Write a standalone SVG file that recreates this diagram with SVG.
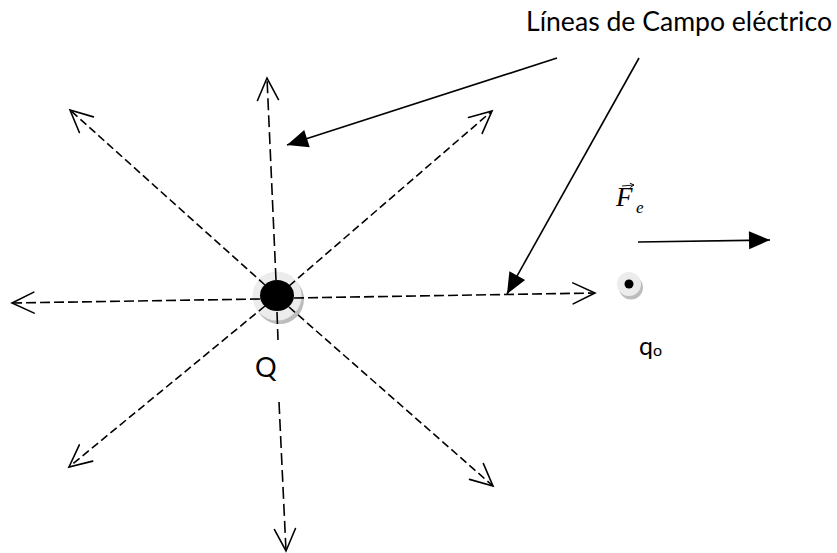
<svg xmlns="http://www.w3.org/2000/svg" width="837" height="553" viewBox="0 0 837 553">
<defs>
<marker id="open" markerUnits="userSpaceOnUse" markerWidth="40" markerHeight="40" viewBox="-30 -20 40 40" refX="0" refY="0" orient="auto" overflow="visible">
<path d="M-22,-10.5 L0,0 L-22,10.5" fill="none" stroke="#000" stroke-width="1.6" stroke-dasharray="none" stroke-linecap="round" stroke-linejoin="miter"/>
</marker>
<marker id="solid" markerUnits="userSpaceOnUse" markerWidth="40" markerHeight="40" viewBox="-30 -20 40 40" refX="0" refY="0" orient="auto" overflow="visible">
<path d="M0,0 L-21,-9 L-21,9 Z" fill="#000" stroke="none"/>
</marker>
<marker id="tiny" markerUnits="userSpaceOnUse" markerWidth="10" markerHeight="10" viewBox="-6 -4 10 8" refX="0" refY="0" orient="auto" overflow="visible">
<path d="M-4,-2.2 L0,0 L-4,2.2" fill="none" stroke="#000" stroke-width="0.9"/>
</marker>
</defs>
<style>
.dash{fill:none;stroke:#000;stroke-width:1.6;stroke-dasharray:8 4;marker-end:url(#open)}
.dv{stroke-dasharray:12 5}
.dh{stroke-dasharray:10 4}
.nomark{marker-end:none}
.call{fill:none;stroke:#000;stroke-width:1.6;marker-end:url(#solid)}
.lbl{font-family:Lato,"Open Sans","Liberation Sans",sans-serif;fill:#000}
.math{font-family:"Liberation Serif","Times New Roman",serif;font-style:italic;fill:#000}
</style>
<rect width="837" height="553" fill="#fff"/>

<g id="node-Q">
<circle cx="279.5" cy="299.5" r="24.5" fill="#bdbdbd"/>
<circle cx="277" cy="296" r="24.5" fill="#ececec"/>
<ellipse cx="277" cy="295.5" rx="17" ry="15.5" fill="#000"/>
<text class="lbl" x="255" y="377" font-size="27">Q</text>
</g>

<g id="node-q0">
<circle cx="631" cy="287.5" r="12" fill="#bdbdbd"/>
<circle cx="629" cy="284" r="12" fill="#ececec"/>
<circle cx="629" cy="284" r="4.5" fill="#000"/>
<text class="lbl" x="639" y="355" font-size="25">q<tspan font-size="16" dy="1">o</tspan></text>
</g>

<g id="label-title">
<text class="lbl" x="526" y="31" font-size="27" textLength="306" lengthAdjust="spacingAndGlyphs">Líneas de Campo eléctrico</text>
</g>

<g id="label-Fe">
<text class="math" x="616" y="206" font-size="27">F</text>
<text class="math" x="636" y="213" font-size="17">e</text>
<line x1="622" y1="186" x2="634" y2="185" stroke="#000" stroke-width="0.9" marker-end="url(#tiny)"/>
</g>

<g id="connectors">
<line class="dash" x1="265" y1="285" x2="70" y2="110"/>
<line class="dash" x1="289" y1="286" x2="492" y2="111"/>
<line class="dash" x1="265" y1="306" x2="69" y2="467"/>
<line class="dash" x1="289" y1="307" x2="493" y2="486"/>
<line class="dash dh" x1="260" y1="299" x2="12" y2="303"/>
<line class="dash dh" x1="294" y1="298" x2="595" y2="293"/>
<line class="dash dv" x1="276" y1="280" x2="267" y2="78"/>
<line class="dash dv nomark" x1="277" y1="312" x2="278" y2="340"/>
<line class="dash dv" x1="279" y1="402" x2="286" y2="551"/>
<line class="call" x1="557" y1="58" x2="287" y2="145"/>
<line class="call" x1="639" y1="58" x2="507" y2="294"/>
<line class="call" x1="638" y1="242" x2="770" y2="240"/>
</g>
</svg>
